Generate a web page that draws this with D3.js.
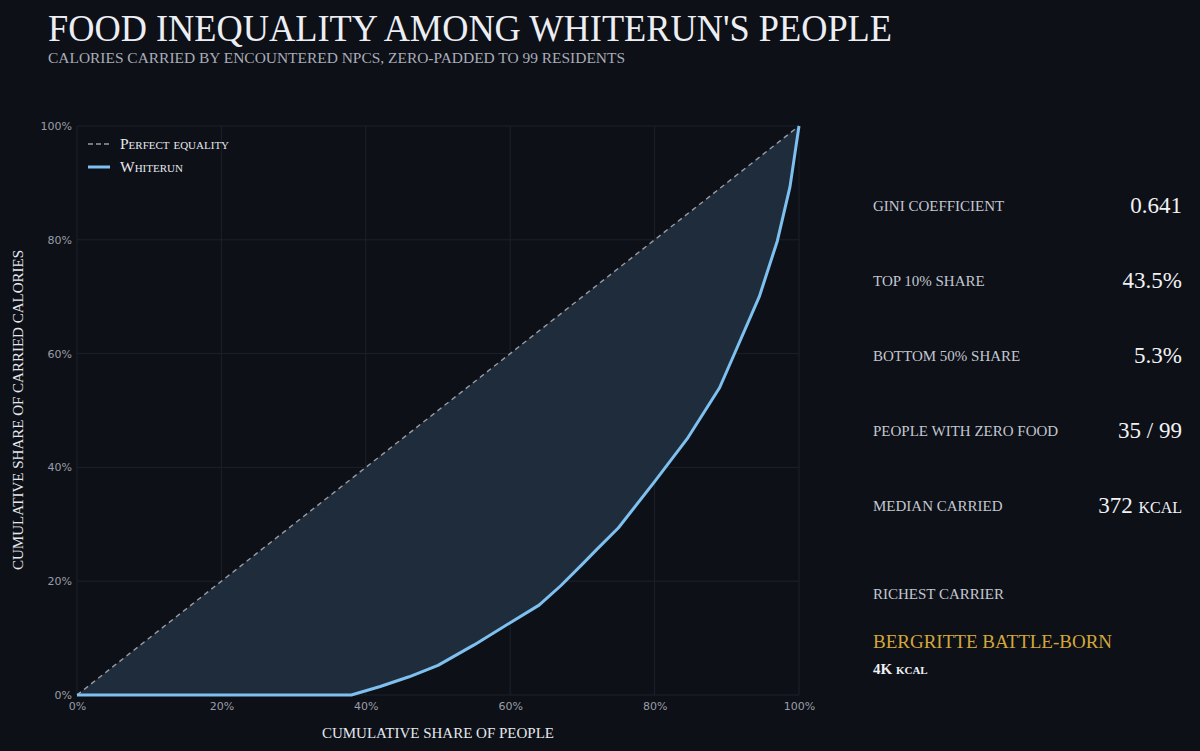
<!DOCTYPE html>
<html>
<head>
<meta charset="utf-8">
<script src="https://cdn.jsdelivr.net/npm/d3@7"></script>
<style>
  html,body{margin:0;padding:0;background:#0d1017;}
  svg{display:block;}
  .serif{font-family:"Liberation Serif","DejaVu Serif",serif;}
  .tick text{font-family:"DejaVu Sans",sans-serif;font-size:11px;fill:#9a9ea8;}
  .tick line,.domain{display:none;}
</style>
</head>
<body>
<svg id="chart" width="1200" height="751"></svg>
<script>
// lorenz curve
let peopleShare=[0,0.38,0.42,0.46,0.50,0.55,0.60,0.64,0.67,0.70,0.72,0.75,0.80,0.845,0.89,0.91,0.945,0.97,0.9875,1];
let calorieShare=[0,0,0.015,0.032,0.052,0.088,0.127,0.158,0.192,0.230,0.256,0.294,0.375,0.45,0.54,0.598,0.70,0.798,0.893,1];
let tickValues=[0,0.2,0.4,0.6,0.8,1];

let statLabels=["Gini coefficient","Top 10% share","Bottom 50% share","People with zero food","Median carried"];
let statValues=["0.641","43.5%","5.3%","35 / 99","372 kcal"];
let richestName="Bergritte Battle-Born";
let richestAmount="4K kcal";

const W=1200,H=751;
const m={left:77,right:799,top:126,bottom:695};

let svg=d3.select("#chart");
let x=d3.scaleLinear().domain([0,1]).range([m.left,m.right]);
let y=d3.scaleLinear().domain([0,1]).range([m.bottom,m.top]);
let pts=peopleShare.map((p,i)=>[p,calorieShare[i]]);

// grid
let grid=svg.append("g").attr("stroke","#1d212a").attr("stroke-width",1);
grid.selectAll("line.gx").data(tickValues).enter().append("line")
  .attr("x1",d=>x(d)).attr("x2",d=>x(d)).attr("y1",m.top).attr("y2",m.bottom);
grid.selectAll("line.gy").data(tickValues).enter().append("line")
  .attr("x1",m.left).attr("x2",m.right).attr("y1",d=>y(d)).attr("y2",d=>y(d));

// shaded gap between equality and curve
let area=d3.area()
  .x(d=>x(d[0]))
  .y0(d=>y(d[1]))
  .y1(d=>y(d[0]));
svg.append("path").datum(pts)
  .attr("d",area)
  .attr("fill","#1f2c3b");

// perfect equality
svg.append("path").datum([[0,0],[1,1]])
  .attr("d",d3.line().x(d=>x(d[0])).y(d=>y(d[1])))
  .attr("fill","none")
  .attr("stroke","#9a9ca2")
  .attr("stroke-width",1.4)
  .attr("stroke-dasharray","5,4");

svg.append("path").datum(pts)
  .attr("d",d3.line().x(d=>x(d[0])).y(d=>y(d[1])))
  .attr("fill","none")
  .attr("stroke","#7ec0ef")
  .attr("stroke-width",3)
  .attr("stroke-linejoin","round");

// axes
let fmt=d3.format(".0%");
svg.append("g").attr("transform",`translate(0,${m.bottom})`)
  .call(d3.axisBottom(x).tickValues(tickValues).tickFormat(fmt).tickSize(0).tickPadding(7));
svg.append("g").attr("transform",`translate(${m.left},0)`)
  .call(d3.axisLeft(y).tickValues(tickValues).tickFormat(fmt).tickSize(0).tickPadding(5));

// titles
svg.append("text").attr("class","serif")
  .attr("x",48).attr("y",41)
  .attr("font-size",37).attr("fill","#eceef3")
  .attr("textLength",844).attr("lengthAdjust","spacingAndGlyphs")
  .text("Food Inequality Among Whiterun's People".toUpperCase());
svg.append("text").attr("class","serif")
  .attr("x",48).attr("y",63)
  .attr("font-size",15).attr("fill","#a9adb8")
  .attr("textLength",577).attr("lengthAdjust","spacingAndGlyphs")
  .text("Calories carried by encountered NPCs, zero-padded to 99 residents".toUpperCase());

svg.append("text").attr("class","serif")
  .attr("x",(m.left+m.right)/2).attr("y",738)
  .attr("text-anchor","middle").attr("font-size",15).attr("fill","#e6e8ee")
  .text("Cumulative share of people".toUpperCase());
svg.append("text").attr("class","serif")
  .attr("transform",`translate(23,410) rotate(-90)`)
  .attr("text-anchor","middle").attr("font-size",15).attr("fill","#e6e8ee")
  .text("Cumulative share of carried calories".toUpperCase());

// legend
let legend=svg.append("g").attr("transform","translate(88,144)");
legend.append("line").attr("x1",0).attr("x2",22).attr("y1",0).attr("y2",0)
  .attr("stroke","#9a9ca2").attr("stroke-width",1.4).attr("stroke-dasharray","5,3");
legend.append("line").attr("x1",0).attr("x2",22).attr("y1",23).attr("y2",23)
  .attr("stroke","#7ec0ef").attr("stroke-width",3);
legend.selectAll("text").data(["Perfect equality","Whiterun"]).enter().append("text")
  .attr("class","serif")
  .attr("x",32).attr("y",(d,i)=>i*23+5)
  .attr("font-size",15.5).attr("font-variant","small-caps").attr("fill","#e6e8ee")
  .text(d=>d);

// stats panel
let stats=svg.append("g");
let row=stats.selectAll("g").data(statLabels).enter().append("g")
  .attr("transform",(d,i)=>`translate(0,${211+i*75})`);
row.append("text").attr("class","serif")
  .attr("x",873).attr("y",0)
  .attr("font-size",15).attr("fill","#c3c7d1")
  .text(d=>d.toUpperCase());
row.append("text").attr("class","serif")
  .attr("x",1182).attr("y",2)
  .attr("text-anchor","end").attr("font-size",23).attr("fill","#f1f2f5")
  .attr("font-variant","small-caps")
  .text((d,i)=>statValues[i]);

svg.append("text").attr("class","serif")
  .attr("x",873).attr("y",599)
  .attr("font-size",15).attr("fill","#c3c7d1")
  .text("Richest carrier".toUpperCase());
svg.append("text").attr("class","serif")
  .attr("x",873).attr("y",648)
  .attr("font-size",19).attr("fill","#d3a73a")
  .text(richestName.toUpperCase());
svg.append("text").attr("class","serif")
  .attr("x",873).attr("y",674)
  .attr("font-size",15).attr("font-weight","bold").attr("fill","#eef0f4")
  .attr("font-variant","small-caps")
  .text(richestAmount);
</script>
</body>
</html>
